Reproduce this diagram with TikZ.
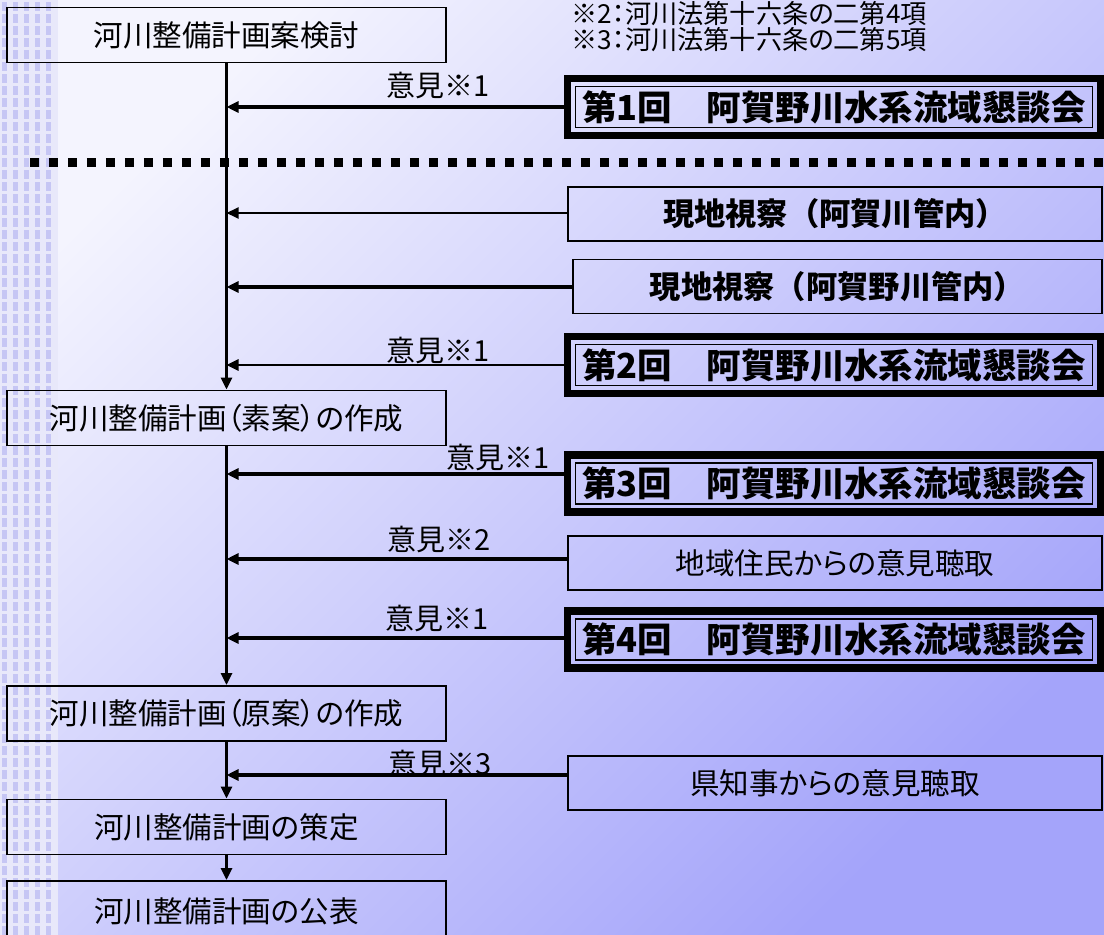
\documentclass[tikz,border=0pt]{standalone}
\usepackage{fontspec}
\setmainfont{Noto Sans CJK JP}[RawFeature=+palt]
\newfontfamily\jpfull{Noto Sans CJK JP}
\usepackage{tikz}
\usetikzlibrary{arrows.meta}
\definecolor{bgtop}{RGB}{244,244,254}
\definecolor{bgbot}{RGB}{164,164,250}
\definecolor{stripebg}{RGB}{232,232,250}
\definecolor{stripeblue}{RGB}{198,198,244}

\begin{document}
\begin{tikzpicture}[x=0.02cm,y=-0.02cm,
    plan/.style={draw,line width=1.1pt,minimum width=8.78cm,minimum height=1.1cm,inner sep=0pt,
      font=\fontsize{16.8pt}{20pt}\selectfont},
    visit/.style={draw,line width=1.1pt,minimum height=1.08cm,inner sep=0pt,
      font=\jpfull\bfseries\fontsize{17.8pt}{21pt}\selectfont},
    hearing/.style={draw,line width=1.1pt,minimum width=10.68cm,minimum height=1.08cm,inner sep=0pt,
      font=\fontsize{16.8pt}{20pt}\selectfont},
    meeting/.style={draw,line width=4pt,minimum width=10.66cm,minimum height=1.14cm,inner sep=0pt,
      font=\bfseries\fontsize{19.6pt}{23pt}\selectfont,
      path picture={\draw[line width=0.9pt] ([shift={(8,8)}]path picture bounding box.north west)
        rectangle ([shift={(-8,-8)}]path picture bounding box.south east);}},
    opinion/.style={inner sep=0pt,font=\fontsize{16.5pt}{20pt}\selectfont},
    note/.style={inner sep=0pt,anchor=west,font=\fontsize{14.9pt}{17pt}\selectfont},
    flow/.style={line width=1.7pt,-{Triangle[length=0.24cm,width=0.22cm]}},
    feed/.style={line width=2.2pt,-{Triangle[length=0.24cm,width=0.22cm]}},
    feedthin/.style={line width=1.1pt,-{Triangle[length=0.24cm,width=0.22cm]}}]

    \useasboundingbox (0,0) rectangle (1104,935);
    \clip (0,0) rectangle (1104,935);

    % background
    \shade[top color=bgtop,bottom color=bgbot,shading angle=45] (0,0) rectangle (1104,935);
    \fill[stripebg] (0,0) rectangle (58,935);
    \foreach \cx in {2,13,...,46}
        \foreach \cy in {2,14,...,935}
            \fill[stripeblue] (\cx,\cy) rectangle ++(5,9);

    % notes
    \node[note] (note2) at (571,14) {※2：河川法第十六条の二第4項};
    \node[note] (note3) at (571,40) {※3：河川法第十六条の二第5項};

    % left column
    \node[plan] (plan) at (226.5,35) {河川整備計画案検討};
    \node[plan] (draft) at (226.5,418) {河川整備計画（素案）の作成};
    \node[plan] (genan) at (226.5,713.5) {河川整備計画（原案）の作成};
    \node[plan] (sakutei) at (226.5,827) {河川整備計画の策定};
    \node[plan,minimum height=1.2cm] (kohyo) at (226.5,911) {河川整備計画の公表};

    % right column
    \node[meeting] (m1) at (834,107) {第1回　阿賀野川水系流域懇談会};
    \node[visit,minimum width=10.68cm] (visit1) at (835,214) {現地視察（阿賀川管内）};
    \node[visit,minimum width=10.58cm] (visit2) at (837.5,286.5) {現地視察（阿賀野川管内）};
    \node[meeting] (m2) at (834,365) {第2回　阿賀野川水系流域懇談会};
    \node[meeting] (m3) at (834,483.5) {第3回　阿賀野川水系流域懇談会};
    \node[hearing] (hear) at (835,563) {地域住民からの意見聴取};
    \node[meeting] (m4) at (834,639.5) {第4回　阿賀野川水系流域懇談会};
    \node[hearing] (gov) at (835,783) {県知事からの意見聴取};

    % divider
    \draw[line width=0.18cm,dash pattern=on 0.18cm off 0.2cm] (30,163) -- (1104,163);

    % opinions
    \node[opinion] (op1) at (438,86) {意見※1};
    \node[opinion] (op2) at (438,350) {意見※1};
    \node[opinion] (op3) at (498,457) {意見※1};
    \node[opinion] (op4) at (439,539) {意見※2};
    \node[opinion] (op5) at (437,618) {意見※1};
    \node[opinion] (op6) at (440,763) {意見※3};

    % junctions on the flow line
    \coordinate (j1) at (226.5,107);
    \coordinate (jv1) at (226.5,213);
    \coordinate (jv2) at (226.5,287);
    \coordinate (j2) at (226.5,365);
    \coordinate (j3) at (226.5,474);
    \coordinate (jh) at (226.5,559);
    \coordinate (j4) at (226.5,638);
    \coordinate (jg) at (226.5,775);

    \draw[flow] (plan) -- (draft);
    \draw[flow] (draft) -- (genan);
    \draw[flow] (genan) -- (sakutei);
    \draw[flow] (sakutei) -- (kohyo);

    \draw[feed] (m1.west |- j1) -- (j1);
    \draw[feedthin] (visit1.west |- jv1) -- (jv1);
    \draw[feed] (visit2.west |- jv2) -- (jv2);
    \draw[feed,line width=1.5pt] (m2.west |- j2) -- (j2);
    \draw[feed,line width=1.8pt] (m3.west |- j3) -- (j3);
    \draw[feed] (hear.west |- jh) -- (jh);
    \draw[feed,line width=1.8pt] (m4.west |- j4) -- (j4);
    \draw[feed,line width=2.8pt] (gov.west |- jg) -- (jg);
\end{tikzpicture}
\end{document}
